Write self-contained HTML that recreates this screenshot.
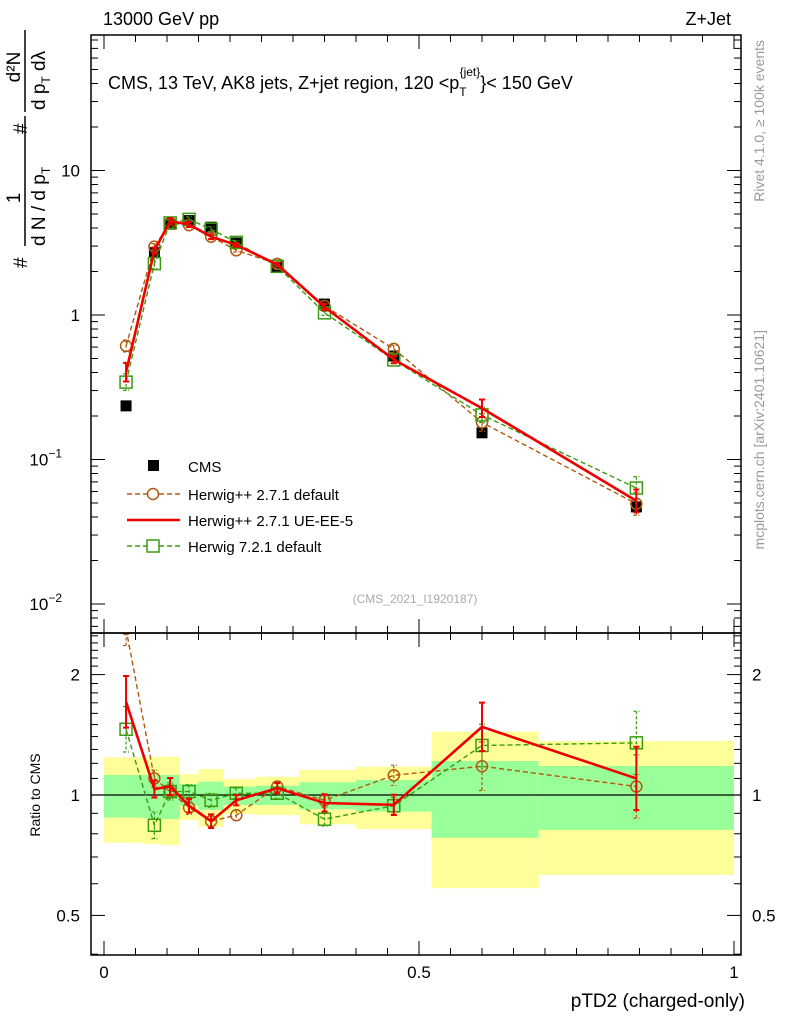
<!DOCTYPE html>
<html><head><meta charset="utf-8"><style>
body{margin:0;background:#fff;}
svg text{font-family:"Liberation Sans",sans-serif;}
</style></head><body>
<svg id="c" width="786" height="1024" viewBox="0 0 786 1024" xmlns="http://www.w3.org/2000/svg">
<g id="bands"></g><g id="grid"></g><g id="series"></g><g id="axes"></g>
<text x="103" y="25" font-size="18">13000 GeV pp</text>
<text x="731" y="25" font-size="18" text-anchor="end">Z+Jet</text>
<text x="108" y="89" font-size="18">CMS, 13 TeV, AK8 jets, Z+jet region, 120 &lt;p<tspan font-size="12" dy="7">T</tspan><tspan font-size="12" dx="-7" dy="-20">{jet}</tspan><tspan dy="13">}&lt; 150 GeV</tspan></text>
<text x="415" y="603" font-size="12" fill="#aaa" text-anchor="middle">(CMS_2021_I1920187)</text>
<text transform="translate(764,40) rotate(-90)" font-size="14" fill="#999" text-anchor="end">Rivet 4.1.0, ≥ 100k events</text>
<text transform="translate(764,330) rotate(-90)" font-size="14" fill="#999" text-anchor="end">mcplots.cern.ch [arXiv:2401.10621]</text>
<g transform="translate(0,270) rotate(-90)">
 <text x="2" y="27" font-size="19">#</text>
 <text x="72" y="20" font-size="19" text-anchor="middle">1</text>
 <line x1="24" x2="154" y1="25" y2="25" stroke="#000" stroke-width="1.5"/>
 <text x="24" y="45" font-size="19">d N / d p<tspan font-size="12" dy="5">T</tspan></text>
 <text x="136" y="27" font-size="19">#</text>
 <text x="203" y="20" font-size="19" text-anchor="middle">d²N</text>
 <line x1="158" x2="240" y1="25" y2="25" stroke="#000" stroke-width="1.5"/>
 <text x="160" y="45" font-size="19">d p<tspan font-size="12" dy="5">T</tspan><tspan dy="-5"> dλ</tspan></text>
</g>
<text transform="translate(40,795) rotate(-90)" font-size="14" text-anchor="middle">Ratio to CMS</text>
<text x="745" y="1007" font-size="19" text-anchor="end">pTD2 (charged-only)</text>
<g id="legend"></g>
</svg>
<script>
const centers=[0.035,0.08,0.105,0.135,0.17,0.21,0.275,0.35,0.46,0.6,0.845];
const edges=[0,0.06,0.09,0.12,0.15,0.19,0.24,0.31,0.40,0.52,0.69,1.0];
const cmsVals=[0.235,2.7,4.25,4.5,4.05,3.15,2.15,1.19,0.52,0.153,0.047];
const brownRatio=[2.6,1.1,1.02,0.93,0.86,0.89,1.05,0.97,1.12,1.18,1.05];
const redRatio=[1.71,1.035,1.05,0.94,0.86,0.97,1.04,0.955,0.945,1.48,1.1];
const greenRatio=[1.46,0.84,1.02,1.02,0.97,1.01,1.01,0.87,0.94,1.33,1.35];
const redErr=[0.16,0.05,0.05,0.04,0.04,0.03,0.03,0.05,0.06,0.15,0.2];
const brownErr=[0.1,0.05,0.04,0.04,0.04,0.03,0.03,0.04,0.06,0.15,0.2];
const greenErr=[0.14,0.08,0.05,0.04,0.04,0.03,0.03,0.04,0.05,0.13,0.2];
const yelHi=[1.242,1.245,1.247,1.128,1.161,1.096,1.111,1.155,1.177,1.44,1.365];
const yelLo=[0.76,0.755,0.75,0.866,0.833,0.896,0.891,0.845,0.822,0.585,0.631];
const grnHi=[1.122,1.122,1.122,1.065,1.08,1.049,1.055,1.076,1.09,1.216,1.182];
const grnLo=[0.878,0.875,0.871,0.94,0.917,0.944,0.944,0.921,0.909,0.782,0.818];
const xTicks=[0,0.5,1];const xTickLbl=["0","0.5","1"];
const rTicks=[0.5,1,2];const rTickLbl=["0.5","1","2"];
const NS="http://www.w3.org/2000/svg";
const L=91,R=741,T1=35,B1=633,T2=633,B2=955;
const X=v=>104+630*v;
const Y=v=>315-144.5*Math.log10(v);
const YR=r=>795-400*Math.log10(r);
function mk(p,tag,at){const e=document.createElementNS(NS,tag);for(const k in at)e.setAttribute(k,at[k]);document.getElementById(p).appendChild(e);return e;}
for(let i=0;i<yelHi.length;i++){
 let e=mk('bands','rect',{x:X(edges[i]),y:YR(yelHi[i]),width:X(edges[i+1])-X(edges[i]),height:YR(yelLo[i])-YR(yelHi[i]),fill:'#ffff99'});
 
 
 e=mk('bands','rect',{x:X(edges[i]),y:YR(grnHi[i]),width:X(edges[i+1])-X(edges[i]),height:YR(grnLo[i])-YR(grnHi[i]),fill:'#99ff99'});
 
 
}
let e=mk('grid','line',{x1:L,x2:R,y1:YR(1),y2:YR(1),stroke:'#000','stroke-width':1.2});


const defs=mk('series','defs',{});
function clip(id,y0,y1){const c=document.createElementNS(NS,'clipPath');c.id=id;const r=document.createElementNS(NS,'rect');r.setAttribute('x',L);r.setAttribute('y',y0);r.setAttribute('width',R-L);r.setAttribute('height',y1-y0);c.appendChild(r);defs.appendChild(c);}
clip('cm',T1,B1);clip('cr',T2,B2);
const series=[
 {name:'herwigpp-default',ratio:brownRatio,err:brownErr,col:'#b05a10',dash:'5,3',w:1.4,mark:'circle'},
 {name:'herwig7-default',ratio:greenRatio,err:greenErr,col:'#3a9a10',dash:'5,3',w:1.4,mark:'square'},
 {name:'herwigpp-ue-ee-5',ratio:redRatio,err:redErr,col:'#ee0000',dash:'',w:2.6,mark:'none'}];
function drawSeries(s,vals,Yf,cp,panel){
 const g=mk('series','g',{'clip-path':'url(#'+cp+')'});
 
 
 const pts=vals.map((v,i)=>X(centers[i])+','+Yf(v)).join(' ');
 const pl=document.createElementNS(NS,'polyline');
 pl.setAttribute('points',pts);pl.setAttribute('fill','none');pl.setAttribute('stroke',s.col);pl.setAttribute('stroke-width',s.w);
 if(s.dash)pl.setAttribute('stroke-dasharray',s.dash);
 g.appendChild(pl);
 vals.forEach((v,i)=>{
  const x=X(centers[i]),y1=Yf(v*(1+s.err[i])),y2=Yf(v/(1+s.err[i]));
  const eb=document.createElementNS(NS,'path');
  eb.setAttribute('d',`M${x},${y1}V${y2}M${x-3},${y1}h6M${x-3},${y2}h6`);
  eb.setAttribute('stroke',s.col);eb.setAttribute('stroke-width',s.mark=='none'?2:1.2);
  if(s.dash)eb.setAttribute('stroke-dasharray','3,2');
  g.appendChild(eb);
  let m;
  if(s.mark=='circle'){m=document.createElementNS(NS,'circle');m.setAttribute('cx',x);m.setAttribute('cy',Yf(v));m.setAttribute('r',5.5);}
  else if(s.mark=='square'){m=document.createElementNS(NS,'rect');m.setAttribute('x',x-6);m.setAttribute('y',Yf(v)-6);m.setAttribute('width',12);m.setAttribute('height',12);}
  if(m){m.setAttribute('fill','none');m.setAttribute('stroke',s.col);m.setAttribute('stroke-width',1.5);g.appendChild(m);}
 });
}
cmsVals.forEach((v,i)=>{
 const m=mk('series','rect',{x:X(centers[i])-5.5,y:Y(v)-5.5,width:11,height:11,fill:'#000'});
 
 
});
series.forEach(s=>{
 drawSeries(s,cmsVals.map((c,i)=>c*s.ratio[i]),Y,'cm','main');
 drawSeries(s,s.ratio,YR,'cr','ratio');
});
[[T1,B1],[T2,B2]].forEach(([t,b],k)=>{
 const f=mk('axes','rect',{x:L,y:t,width:R-L,height:b-t,fill:'none',stroke:'#000','stroke-width':1.5});
 
 
 for(let v=0;v<=1.0001;v+=0.05){const big=Math.abs(v*2-Math.round(v*2))<1e-6;const len=big?14:7;
  mk('axes','line',{x1:X(v),x2:X(v),y1:b,y2:b-len,stroke:'#000'});mk('axes','line',{x1:X(v),x2:X(v),y1:t,y2:t+len,stroke:'#000'});}
});
xTicks.forEach((v,i)=>{const t=mk('axes','text',{x:X(v),y:978,'font-size':17,'text-anchor':'middle'});t.textContent=xTickLbl[i];
 
 });
for(let d=-3;d<=1;d++){for(let m=1;m<10;m++){const v=m*Math.pow(10,d);const y=Y(v);if(y<T1||y>B1)continue;const len=m==1?14:7;
 mk('axes','line',{x1:L,x2:L+len,y1:y,y2:y,stroke:'#000'});mk('axes','line',{x1:R,x2:R-len,y1:y,y2:y,stroke:'#000'});}}
const mainLbl=[[10,'10'],[1,'1']];
mainLbl.forEach(([v,s])=>{const t=mk('axes','text',{x:80,y:Y(v)+6,'font-size':17,'text-anchor':'end'});t.textContent=s;
 
 });
[[0.1,'−1'],[0.01,'−2']].forEach(([v,s])=>{const t=mk('axes','text',{x:62,y:Y(v)+6,'font-size':17,'text-anchor':'end'});t.innerHTML='10<tspan font-size="12" dy="-8">'+s+'</tspan>';
 
 });
for(let v=0.4;v<=2.55;v+=0.1){const y=YR(v);if(y<T2||y>B2)continue;const big=[0.5,1,2].some(q=>Math.abs(q-v)<1e-6);const len=big?14:7;
 mk('axes','line',{x1:L,x2:L+len,y1:y,y2:y,stroke:'#000'});mk('axes','line',{x1:R,x2:R-len,y1:y,y2:y,stroke:'#000'});}
rTicks.forEach((v,i)=>{[[80,'end'],[752,'start']].forEach(([x,a])=>{const t=mk('axes','text',{x:x,y:YR(v)+6,'font-size':17,'text-anchor':a});t.textContent=rTickLbl[i];
 
 });});
const legNames=['CMS','Herwig++ 2.7.1 default','Herwig++ 2.7.1 UE-EE-5','Herwig 7.2.1 default'];
const legY=[466,494,520,546];
legNames.forEach((n,i)=>{const y=legY[i];
 if(i==0){const r=mk('legend','rect',{x:148,y:y-6,width:11,height:11,fill:'#000'});}
 else{const s=[series[0],series[2],series[1]][i-1];
  const l=mk('legend','line',{x1:127,x2:180,y1:y,y2:y,stroke:s.col,'stroke-width':s.w});if(s.dash)l.setAttribute('stroke-dasharray',s.dash);
  
  
  if(s.mark=='circle')mk('legend','circle',{cx:153,cy:y,r:5.5,fill:'#fff',stroke:s.col,'stroke-width':1.5});
  if(s.mark=='square')mk('legend','rect',{x:147,y:y-6,width:12,height:12,fill:'#fff',stroke:s.col,'stroke-width':1.5});}
 const t=mk('legend','text',{x:188,y:y+6,'font-size':15});t.textContent=n;
 
 
});
</script>
</body></html>
